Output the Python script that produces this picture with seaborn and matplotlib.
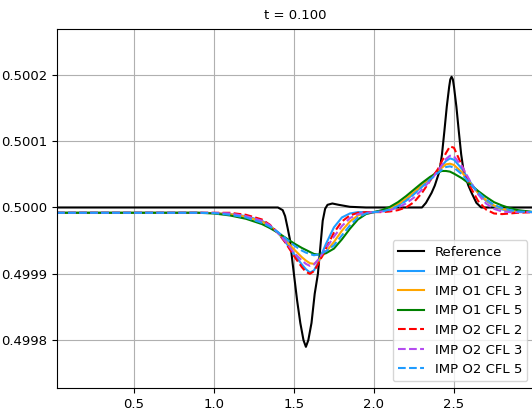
import pandas as pd
import matplotlib
matplotlib.use("Agg")
import matplotlib.pyplot as plt
import matplotlib.ticker as mticker
import seaborn as sns

# reference solution
ref_x = [0.02, 1.40, 1.43, 1.445, 1.46, 1.475, 1.49, 1.50, 1.52, 1.54, 1.56, 1.575,
         1.59, 1.61, 1.63, 1.65, 1.665, 1.68, 1.695, 1.71, 1.74, 1.78, 1.85, 1.95,
         2.30, 2.325, 2.36, 2.38, 2.41, 2.425, 2.44, 2.455, 2.47, 2.477, 2.485,
         2.493, 2.50, 2.515, 2.53, 2.545, 2.56, 2.59, 2.61, 2.64, 2.67, 3.0]
ref_y = [0.5, 0.5, 0.499996, 0.499987, 0.49997, 0.499952, 0.49992, 0.4999, 0.49986,
         0.499826, 0.4998, 0.49979, 0.4998, 0.499826, 0.49987, 0.4999, 0.49994,
         0.49998, 0.499998, 0.500004, 0.500006, 0.500004, 0.500001, 0.5,
         0.5, 0.500007, 0.500022, 0.500033, 0.500055, 0.50008, 0.500115, 0.500152,
         0.500182, 0.500193, 0.500197, 0.500193, 0.500182, 0.500152, 0.500115,
         0.50008, 0.500055, 0.500033, 0.500022, 0.500007, 0.5, 0.5]

# numerical solutions, all on the same grid
x = [0.02, 0.5, 0.9, 1.0, 1.1, 1.2, 1.3, 1.35, 1.4, 1.45, 1.5, 1.55, 1.575, 1.6,
     1.625, 1.65, 1.7, 1.75, 1.8, 1.85, 1.9, 1.95, 2.0, 2.05, 2.1, 2.15, 2.2, 2.25,
     2.3, 2.35, 2.4, 2.425, 2.45, 2.475, 2.5, 2.55, 2.6, 2.65, 2.7, 2.75, 2.8, 2.85,
     2.9, 3.0]

o1_cfl2 = [0.499992, 0.499992, 0.499992, 0.4999915, 0.49999, 0.499987, 0.49998,
           0.499973, 0.499962, 0.499947, 0.49993, 0.499914, 0.499907, 0.499902,
           0.499905, 0.499916, 0.499945, 0.49997, 0.499985, 0.499991, 0.499993,
           0.499993, 0.499993, 0.499995, 0.499998, 0.500003, 0.500011, 0.500021,
           0.500032, 0.500044, 0.500056, 0.500063, 0.50007, 0.500074, 0.500072,
           0.500058, 0.500039, 0.500022, 0.50001, 0.500002, 0.499997, 0.499995,
           0.499994, 0.499993]
o1_cfl3 = [0.499992, 0.499992, 0.499992, 0.4999915, 0.49999, 0.499986, 0.499979,
           0.499972, 0.499962, 0.49995, 0.499937, 0.499925, 0.49992, 0.499916,
           0.499915, 0.499919, 0.499933, 0.499948, 0.499965, 0.499979, 0.499988,
           0.499992, 0.499993, 0.499995, 0.499999, 0.500005, 0.500013, 0.500023,
           0.500034, 0.500045, 0.500055, 0.50006, 0.500065, 0.500066, 0.500064,
           0.500053, 0.500037, 0.500022, 0.500011, 0.500003, 0.499998, 0.499995,
           0.499994, 0.499993]
o1_cfl5 = [0.499992, 0.499992, 0.499992, 0.499991, 0.499988, 0.499983, 0.499975,
           0.499969, 0.499962, 0.499954, 0.499946, 0.499939, 0.499936, 0.499933,
           0.49993, 0.499929, 0.499931, 0.499938, 0.499952, 0.499968, 0.499982,
           0.49999, 0.499993, 0.499996, 0.500001, 0.500008, 0.500017, 0.500027,
           0.500037, 0.500046, 0.500053, 0.500055, 0.500055, 0.500054, 0.500051,
           0.500044, 0.500035, 0.500025, 0.500016, 0.500008, 0.500003, 0.499999,
           0.499996, 0.499993]
o2_cfl2 = [0.499992, 0.499992, 0.499992, 0.499992, 0.499992, 0.499989, 0.499982,
           0.499974, 0.499962, 0.499946, 0.499927, 0.49991, 0.499903, 0.4999,
           0.499904, 0.499914, 0.499938, 0.499962, 0.499979, 0.499988, 0.499992,
           0.499993, 0.499993, 0.499993, 0.499994, 0.499996, 0.5, 0.500008,
           0.500022, 0.50004, 0.500058, 0.50007, 0.500082, 0.500092, 0.50009,
           0.500063, 0.500032, 0.50001, 0.499997, 0.499991, 0.49999, 0.499991,
           0.499992, 0.499993]
o2_cfl3 = [0.499992, 0.499992, 0.499992, 0.499992, 0.499991, 0.499987, 0.49998,
           0.499973, 0.499962, 0.499948, 0.499932, 0.49992, 0.499915, 0.499912,
           0.499914, 0.499921, 0.499938, 0.499956, 0.499972, 0.499984, 0.49999,
           0.499992, 0.499993, 0.499994, 0.499996, 0.5, 0.500006, 0.500015,
           0.500027, 0.50004, 0.500055, 0.500064, 0.500073, 0.500078, 0.500077,
           0.500062, 0.50004, 0.50002, 0.500006, 0.499998, 0.499994, 0.499993,
           0.499993, 0.499993]
o2_cfl5 = [0.499992, 0.499992, 0.499992, 0.4999915, 0.499989, 0.499985, 0.499977,
           0.499971, 0.499963, 0.499953, 0.499943, 0.499935, 0.499932, 0.49993,
           0.499928, 0.499929, 0.499934, 0.499943, 0.499958, 0.499973, 0.499985,
           0.499991, 0.499993, 0.499994, 0.499997, 0.500002, 0.50001, 0.50002,
           0.500031, 0.500042, 0.500052, 0.500057, 0.500061, 0.500062, 0.50006,
           0.50005, 0.500036, 0.500023, 0.500012, 0.500004, 0.499999, 0.499996,
           0.499994, 0.499993]

labels = ["IMP O1 CFL 2", "IMP O1 CFL 3", "IMP O1 CFL 5",
          "IMP O2 CFL 2", "IMP O2 CFL 3", "IMP O2 CFL 5"]
series = [o1_cfl2, o1_cfl3, o1_cfl5, o2_cfl2, o2_cfl3, o2_cfl5]
colors = ["#1f9cff", "#ffa500", "#008000", "#ff0000", "#b44cf0", "#1f9cff"]
styles = ["-", "-", "-", "--", "--", "--"]

plt.rcParams["font.family"] = ["DejaVu Sans"]
plt.rcParams["font.size"] = 9.5

fig = plt.figure(figsize=(5.32, 4.15), dpi=100)
ax = fig.add_axes([0.1071, 0.0651, 0.8967, 0.8651])

sns.lineplot(x=ref_x, y=ref_y, color="black", lw=1.5, label="Reference", ax=ax)
for lab, vals, col, ls in zip(labels, series, colors, styles):
    df = pd.DataFrame({"x": x, "y": vals})
    sns.lineplot(data=df, x="x", y="y", color=col, linestyle=ls, lw=1.5,
                 label=lab, ax=ax)

ax.set_xlim(0.02, 3.0)
ax.set_ylim(0.499728, 0.500269)
ax.set_xticks([0.5, 1.0, 1.5, 2.0, 2.5])
ax.set_yticks([0.4998, 0.4999, 0.5000, 0.5001, 0.5002])
ax.yaxis.set_major_formatter(mticker.FormatStrFormatter("%.4f"))
ax.grid(True, color="#b0b0b0", lw=0.8)
ax.set_xlabel("")
ax.set_ylabel("")
ax.set_title("t = 0.100", fontsize=9.5, pad=7)
ax.legend(loc="lower right", fontsize=9.5)

fig.savefig("out.png", dpi=100)
